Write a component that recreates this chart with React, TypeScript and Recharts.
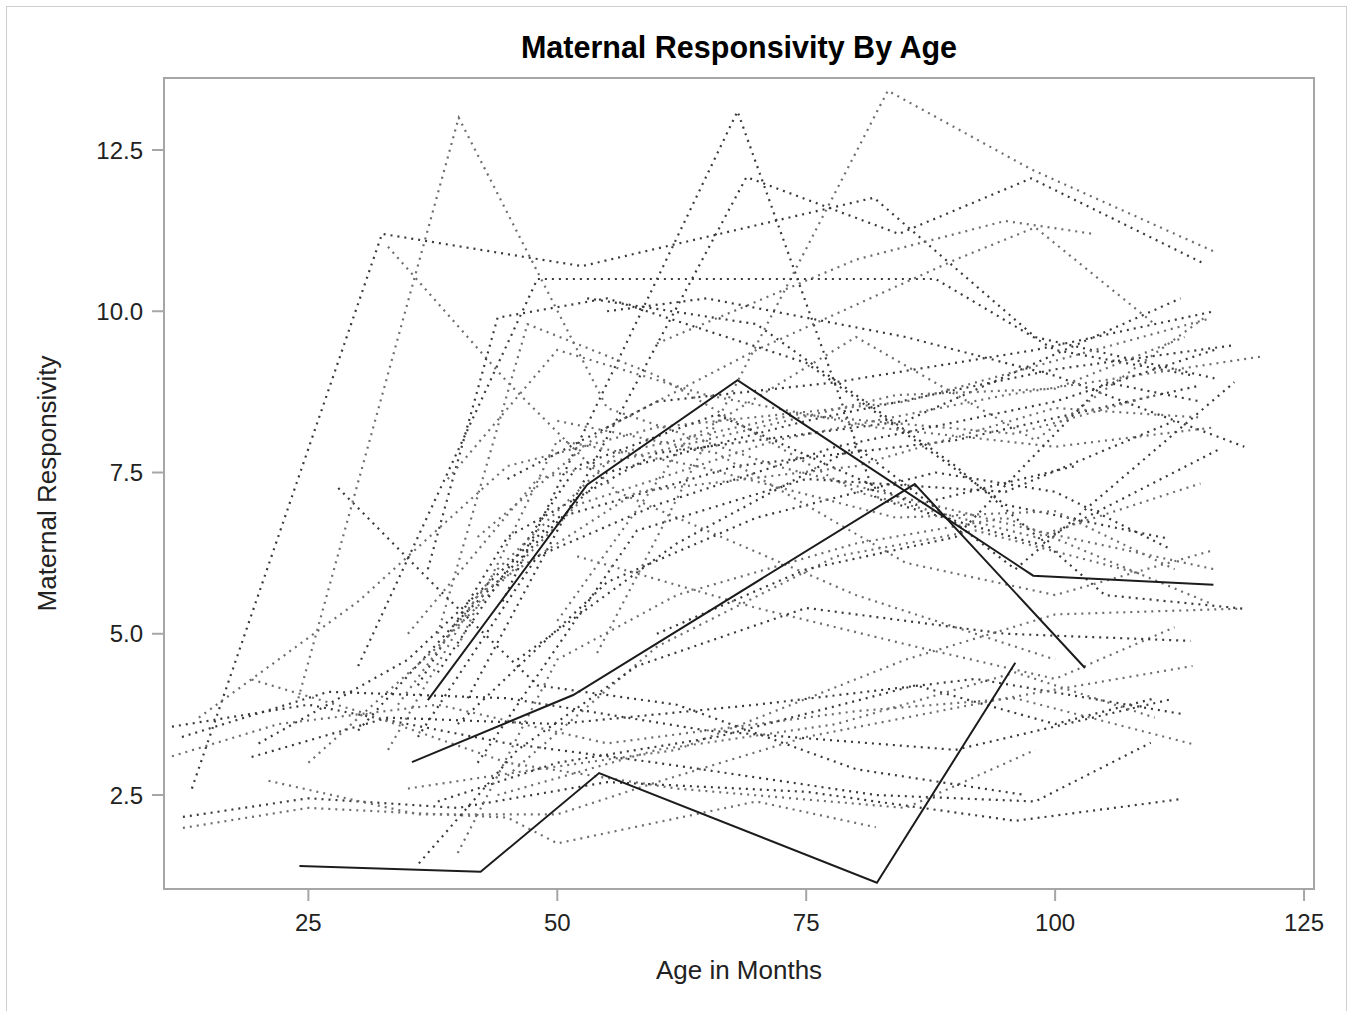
import { LineChart, Line, XAxis, YAxis, ReferenceArea } from "recharts";

type Pt = [number, number];

const xTicks = [25, 50, 75, 100, 125];
const yTicks = [2.5, 5, 7.5, 10, 12.5];

// three highlighted subjects (solid)
const solidSubjects: Pt[][] = [
  [[37.0, 3.97], [53.0, 7.31], [68.1, 8.93], [97.8, 5.9], [115.9, 5.76]],
  [[35.4, 3.01], [51.6, 4.05], [85.9, 7.32], [103.0, 4.47]],
  [[24.1, 1.4], [42.3, 1.31], [54.2, 2.84], [82.1, 1.14], [96.0, 4.55]],
];

// subjects with high peaks
const highSubjects: Pt[][] = [
  [[13.3, 2.6], [32.4, 11.2], [50, 10.76], [52.5, 10.7], [81.8, 11.76], [98, 9.6], [116, 8.96]],
  [[24, 4.0], [40.1, 13.0], [55, 8.5], [72, 7.6], [98, 6.6], [116, 6.0]],
  [[44.5, 5.5], [68.1, 13.1], [82, 7.1], [98, 6.4], [116.6, 7.87]],
  [[54, 4.7], [83.2, 13.42], [97.6, 12.2], [115.9, 10.93]],
  [[41, 4.0], [69, 12.08], [84.3, 11.2], [97.6, 12.06], [114.8, 10.75]],
  [[33, 11.0], [45, 8.9], [56, 7.2], [80, 5.6], [100, 4.6]],
  [[30, 4.5], [48, 10.5], [88, 10.5], [100, 9.4], [114, 9.0]],
  [[60, 9.5], [80, 10.8], [95, 11.4], [103.8, 11.2]],
  [[53, 10.2], [70, 9.8], [90, 7.6], [105, 5.6], [118.8, 5.39]],
  [[42, 6.5], [55, 8.2], [70, 9.4], [90, 10.8], [98, 11.3], [110, 9.8]],
  [[55, 10.0], [65, 10.2], [85, 9.6], [100, 9.0], [119, 7.9]],
];

// subjects in the middle band
const midSubjects: Pt[][] = [
  [[14, 3.7], [30, 5.5], [45, 7.6], [60, 8.2], [85, 8.6], [115.6, 9.89]],
  [[20, 3.3], [35, 4.6], [50, 6.8], [68, 7.6], [90, 8.0], [114.6, 8.85]],
  [[25, 3.0], [38, 4.8], [52, 7.0], [72, 8.0], [95, 8.7], [120.8, 9.3]],
  [[30, 3.5], [40, 5.2], [55, 7.5], [75, 8.3], [100, 9.1], [117.8, 9.47]],
  [[33, 3.2], [42, 5.6], [58, 7.2], [80, 7.6], [100, 8.5], [114.8, 8.35]],
  [[36, 4.2], [45, 6.5], [60, 7.8], [85, 8.3], [112.6, 10.2]],
  [[38, 5.0], [47, 9.8], [60, 9.0], [80, 7.2], [98, 6.5], [114.6, 7.33]],
  [[37, 6.0], [44, 9.9], [55, 10.2], [75, 9.2], [95, 7.0], [111.5, 6.47]],
  [[39, 7.4], [50, 9.4], [65, 8.7], [82, 8.2], [100, 7.9], [116, 8.2]],
  [[40, 3.6], [55, 5.8], [70, 6.8], [88, 7.5], [100, 7.2], [111.5, 6.32]],
  [[45, 2.8], [60, 4.8], [78, 6.2], [92, 6.6], [108.8, 5.92]],
  [[42, 3.0], [58, 6.6], [75, 7.4], [95, 7.2], [112, 8.3]],
  [[50, 5.2], [63, 8.0], [80, 9.6], [98, 8.0], [115, 9.9]],
  [[45, 7.4], [60, 8.6], [78, 8.9], [98, 9.4], [116, 10.0]],
  [[50, 8.3], [66, 7.8], [85, 6.1], [100, 5.6], [116, 6.3]],
  [[60, 5.0], [75, 6.0], [90, 6.5], [105, 8.9], [114.6, 8.6]],
  [[52, 6.2], [70, 5.4], [86, 4.8], [100, 4.3], [112, 5.1]],
  [[46, 4.6], [62, 6.4], [80, 7.9], [96, 6.0], [118, 8.9]],
  [[35, 5.0], [48, 7.4], [62, 7.9], [84, 8.7], [100, 8.8], [113, 9.6]],
  [[38, 4.4], [52, 7.6], [66, 8.4], [86, 7.0], [102, 7.6]],
  [[34, 3.9], [44, 6.0], [56, 7.8], [74, 8.4], [96, 8.1], [110, 8.7]],
  [[36, 3.4], [48, 6.2], [60, 7.0], [78, 7.9], [100, 8.6], [116, 9.4]],
  [[40, 4.8], [50, 8.0], [64, 7.6], [84, 6.8], [100, 6.9], [112, 6.0]],
];

// subjects in the low band
const lowSubjects: Pt[][] = [
  [[12.4, 2.16], [25, 2.45], [40, 2.3], [55, 2.7], [75, 2.55], [96, 2.1], [112.8, 2.44]],
  [[12.4, 1.99], [25, 2.3], [45, 2.15], [50, 1.75], [70, 2.4], [82, 2.0]],
  [[11.3, 3.56], [25, 3.9], [45, 3.3], [60, 3.0], [82, 2.5], [98, 2.4], [109.6, 3.31]],
  [[11.3, 3.1], [22, 3.6], [38, 3.9], [55, 3.3], [80, 3.8], [96, 4.0], [113.8, 3.29]],
  [[12.3, 3.4], [27, 4.1], [45, 4.0], [65, 3.5], [90, 3.2], [111.8, 3.99]],
  [[19.3, 4.29], [30, 3.8], [45, 3.0], [62, 2.6], [85, 2.3], [98, 3.2]],
  [[19.3, 3.09], [33, 3.7], [50, 3.6], [70, 3.9], [92, 4.3], [112.6, 3.76]],
  [[21, 2.72], [36, 2.2], [50, 2.2], [60, 2.7], [75, 3.4], [95, 4.0], [113.8, 4.5]],
  [[36.1, 1.44], [46, 3.2], [58, 4.5], [75, 5.4], [95, 5.0], [113.6, 4.89]],
  [[35, 2.6], [48, 2.9], [62, 3.2], [85, 4.6], [100, 5.3], [118.8, 5.39]],
  [[38, 2.4], [50, 3.0], [66, 3.4], [86, 4.2], [100, 3.6], [110, 4.0]],
  [[40, 1.6], [50, 4.6], [62, 5.6], [80, 6.4], [95, 6.8], [115.6, 5.47]],
  [[28, 7.26], [38, 5.7], [48, 4.2], [62, 3.9], [80, 2.9], [97, 2.5]],
  [[44, 2.5], [60, 3.2], [78, 3.6], [96, 4.4], [110, 3.7]],
];

const toRows = (s: Pt[]) => s.map(([age, resp]) => ({ age, resp }));

const FONT = "'Liberation Sans', Arial, sans-serif";
const AXIS = "#a6a6a6";
const X_DOMAIN: [number, number] = [10.5, 126];
const Y_DOMAIN: [number, number] = [1.043, 13.616];

const dotted = [...highSubjects, ...midSubjects, ...lowSubjects];

export default function App() {
  return (
    <div style={{ position: "absolute", left: 0, top: 0, width: 1355, height: 1011, background: "#fff" }}>
      <div
        style={{
          position: "absolute",
          left: 6,
          top: 6,
          width: 1341,
          height: 1010,
          border: "1px solid #cfcfcf",
          boxSizing: "border-box",
        }}
      />
      <div style={{ position: "absolute", left: 0, top: 0 }}>
        <LineChart width={1355} height={1011} margin={{ top: 78, right: 41, bottom: 62, left: 0 }}>
          <XAxis
            dataKey="age"
            type="number"
            domain={X_DOMAIN}
            allowDataOverflow
            ticks={xTicks}
            tickSize={12}
            tickMargin={13}
            height={60}
            stroke={AXIS}
            strokeWidth={2}
            tick={{ fontSize: 24, fill: "#222", fontFamily: FONT }}
          />
          <YAxis
            type="number"
            domain={Y_DOMAIN}
            allowDataOverflow
            ticks={yTicks}
            tickSize={12}
            tickMargin={9}
            width={164}
            stroke={AXIS}
            strokeWidth={2}
            tickFormatter={(v: number) => v.toFixed(1)}
            tick={{ fontSize: 24, fill: "#222", fontFamily: FONT }}
          />
          <ReferenceArea
            x1={X_DOMAIN[0]}
            x2={X_DOMAIN[1]}
            y1={Y_DOMAIN[0]}
            y2={Y_DOMAIN[1]}
            fill="none"
            stroke={AXIS}
            strokeWidth={2}
            fillOpacity={0}
          />
          {dotted.map((s, i) => (
            <Line
              key={`d${i}`}
              data={toRows(s)}
              dataKey="resp"
              type="linear"
              stroke={i % 2 === 0 ? "#3a3a3a" : "#6e6e6e"}
              strokeWidth={2.2}
              strokeDasharray="2 5"
              dot={false}
              activeDot={false}
              isAnimationActive={false}
            />
          ))}
          {solidSubjects.map((s, i) => (
            <Line
              key={`s${i}`}
              data={toRows(s)}
              dataKey="resp"
              type="linear"
              stroke="#1c1c1c"
              strokeWidth={2}
              dot={false}
              activeDot={false}
              isAnimationActive={false}
            />
          ))}
        </LineChart>
      </div>
      <svg
        width={1355}
        height={1011}
        style={{ position: "absolute", left: 0, top: 0, pointerEvents: "none" }}
      >
        <text x={739} y={58} textAnchor="middle" fontFamily={FONT} fontWeight="bold" fontSize={30.5} fill="#000">
          Maternal Responsivity By Age
        </text>
        <text x={739} y={979} textAnchor="middle" fontFamily={FONT} fontSize={26} fill="#222">
          Age in Months
        </text>
        <text
          x={0}
          y={0}
          transform="translate(56,483.5) rotate(-90)"
          textAnchor="middle"
          fontFamily={FONT}
          fontSize={26}
          fill="#222"
        >
          Maternal Responsivity
        </text>
      </svg>
    </div>
  );
}
